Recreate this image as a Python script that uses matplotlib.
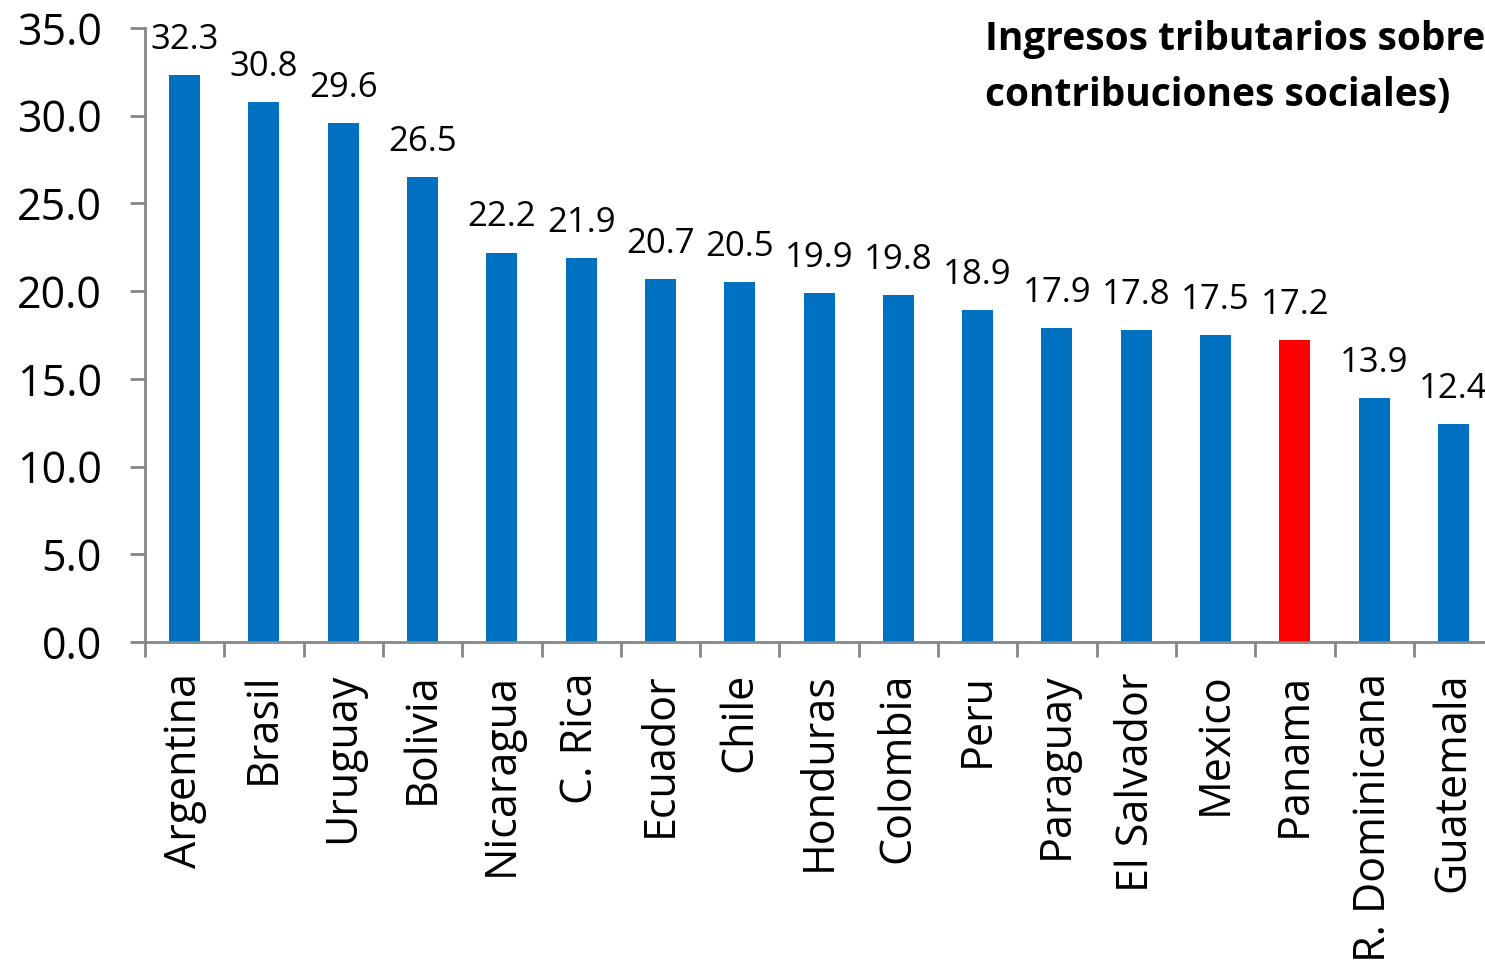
import numpy as np
import matplotlib
matplotlib.use("Agg")
import matplotlib.pyplot as plt

# datos
paises = ["Argentina", "Brasil", "Uruguay", "Bolivia", "Nicaragua", "C. Rica",
          "Ecuador", "Chile", "Honduras", "Colombia", "Peru", "Paraguay",
          "El Salvador", "Mexico", "Panama", "R. Dominicana", "Guatemala"]
valores = [32.3, 30.8, 29.6, 26.5, 22.2, 21.9, 20.7, 20.5, 19.9, 19.8, 18.9,
           17.9, 17.8, 17.5, 17.2, 13.9, 12.4]
destacado = "Panama"
titulo = "Ingresos tributarios sobre el PIB (incluye\ncontribuciones sociales)"

AZUL = "#0070C0"
ROJO = "#FF0000"
GRIS = "#868686"

plt.rcParams['font.family'] = ['Open Sans', 'DejaVu Sans']

W, H = 1485, 961
fig = plt.figure(figsize=(W / 100, H / 100), dpi=100)
ax = fig.add_axes([145 / W, (H - 642) / H, 17 * 79.3 / W, 614 / H])

x = np.arange(len(paises))
colores = [ROJO if p == destacado else AZUL for p in paises]
ax.bar(x, valores, width=0.39, color=colores, zorder=2)

for xi, v in zip(x, valores):
    ax.annotate(f"{v:.1f}", (xi, v), xytext=(0, 13), textcoords="offset points",
                ha="center", va="bottom", fontsize=25, color="black")

ax.set_xlim(-0.5, len(paises) - 0.5)
ax.set_ylim(0, 35)
ax.set_yticks(np.arange(0, 35.1, 5))
ax.set_yticklabels([f"{t:.1f}" for t in np.arange(0, 35.1, 5)])

ax.set_xticks(x)
ax.set_xticklabels(paises, rotation=90)
ax.set_xticks(np.arange(-0.5, len(paises), 1), minor=True)

ax.tick_params(axis="y", direction="out", length=11, width=2, color=GRIS,
               labelsize=31, pad=20)
ax.tick_params(axis="x", which="major", length=0, labelsize=31, pad=22)
ax.tick_params(axis="x", which="minor", direction="out", length=11, width=2, color=GRIS)

for s in ["top", "right"]:
    ax.spines[s].set_visible(False)
for s in ["left", "bottom"]:
    ax.spines[s].set_color(GRIS)
    ax.spines[s].set_linewidth(2)

fig.text(985 / W, 1 - 20 / H, titulo, ha="left", va="top", fontsize=28,
         fontweight="bold", linespacing=1.58)

fig.savefig("out.png", dpi=100)
